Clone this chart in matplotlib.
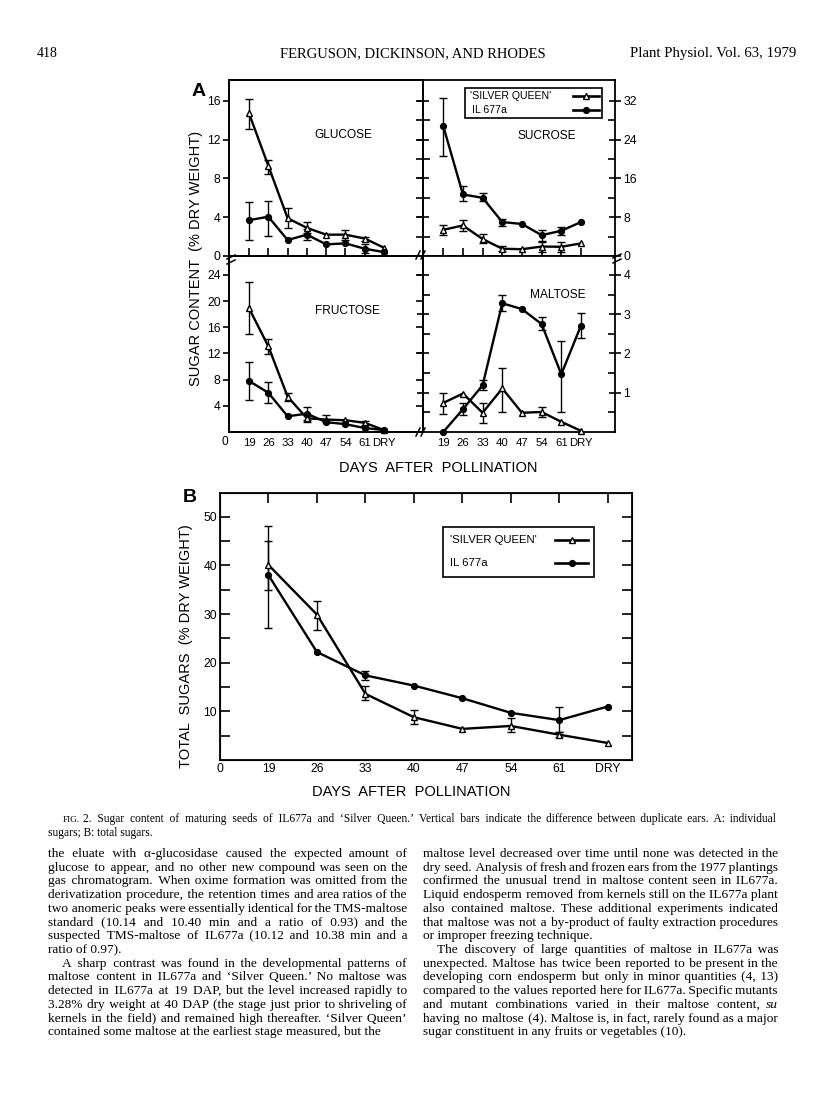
"""Sugar content of maturing IL677a and 'Silver Queen' seeds, page 418."""
import matplotlib
matplotlib.use("Agg")
import matplotlib.pyplot as plt
from matplotlib.lines import Line2D
from matplotlib.patches import Rectangle
import numpy as np

nan = np.nan

days = ["19", "26", "33", "40", "47", "54", "61", "DRY"]
series_names = ["'SILVER QUEEN'", "IL 677a"]

# panel A, % dry weight; *_lo / *_hi are the ends of the duplicate-ear bars (nan = no bar)
glu_sq = [14.7, 9.3, 3.9, 2.9, 2.2, 2.2, 1.8, 0.85]
glu_sq_lo = [13.1, 8.5, 2.9, 2.4, nan, 1.7, 1.5, nan]
glu_sq_hi = [16.2, 9.9, 5.0, 3.5, nan, 2.7, 2.0, nan]
glu_il = [3.7, 4.05, 1.65, 2.2, 1.2, 1.3, 0.75, 0.4]
glu_il_lo = [1.7, 2.1, nan, 1.7, nan, nan, 0.3, nan]
glu_il_hi = [5.6, 5.7, nan, 2.75, nan, nan, 1.2, nan]

suc_sq = [5.4, 6.3, 3.5, 1.5, 1.4, 1.95, 1.9, 2.6]
suc_sq_lo = [4.4, 5.2, 2.6, 1.0, nan, 0.9, 0.9, nan]
suc_sq_hi = [6.4, 7.4, 4.5, 2.0, nan, 2.8, 2.8, nan]
suc_il = [26.8, 12.7, 12.0, 7.0, 6.6, 4.3, 5.2, 7.0]
suc_il_lo = [20.7, 11.3, 11.3, 6.1, nan, 3.1, 4.4, nan]
suc_il_hi = [32.6, 14.4, 12.9, 7.7, nan, 5.3, 6.0, nan]

fru_sq = [18.9, 13.1, 5.4, 2.1, 1.9, 1.8, 1.4, 0.3]
fru_sq_lo = [15.0, 11.9, 4.7, 1.6, 1.5, nan, 1.1, nan]
fru_sq_hi = [23.0, 14.2, 6.0, 2.6, 2.6, nan, 1.7, nan]
fru_il = [7.8, 6.0, 2.4, 2.8, 1.5, 1.2, 0.6, 0.3]
fru_il_lo = [4.9, 4.4, nan, 1.9, nan, nan, nan, nan]
fru_il_hi = [10.7, 7.6, nan, 3.8, nan, nan, nan, nan]

mal_sq = [0.74, 0.98, 0.49, 1.11, 0.49, 0.51, 0.26, 0.03]
mal_sq_lo = [0.47, nan, 0.22, 0.52, nan, 0.39, nan, nan]
mal_sq_hi = [1.0, nan, 0.74, 1.63, nan, 0.64, nan, nan]
mal_il = [0.0, 0.58, 1.19, 3.28, 3.13, 2.75, 1.47, 2.71]
mal_il_lo = [nan, 0.43, 1.06, 3.09, nan, 2.59, 0.52, 2.39]
mal_il_hi = [nan, 0.75, 1.32, 3.49, nan, 2.92, 2.31, 3.03]

# panel B, total sugars
tot_sq = [40.1, 29.9, 13.6, 8.8, 6.4, 7.0, 5.2, 3.5]
tot_sq_lo = [27.2, 26.7, 12.3, 7.4, nan, 5.7, 4.7, nan]
tot_sq_hi = [48.1, 32.7, 15.3, 10.2, nan, 8.7, 5.7, nan]
tot_il = [38.0, 22.2, 17.4, 15.3, 12.7, 9.7, 8.2, 11.0]
tot_il_lo = [34.9, nan, 16.5, nan, nan, nan, 5.8, nan]
tot_il_hi = [45.1, nan, 18.3, nan, nan, nan, 11.0, nan]

header = ["418", "FERGUSON, DICKINSON, AND RHODES", "Plant Physiol. Vol. 63, 1979"]
caption = [
    "FIG. 2. Sugar content of maturing seeds of IL677a and \u2018Silver Queen.\u2019 Vertical bars indicate the difference between duplicate ears. A: individual",
    "sugars; B: total sugars.",
]
col_left = [
    "the eluate with \u03b1-glucosidase caused the expected amount of",
    "glucose to appear, and no other new compound was seen on the",
    "gas chromatogram. When oxime formation was omitted from the",
    "derivatization procedure, the retention times and area ratios of the",
    "two anomeric peaks were essentially identical for the TMS-maltose",
    "standard (10.14 and 10.40 min and a ratio of 0.93) and the",
    "suspected TMS-maltose of IL677a (10.12 and 10.38 min and a",
    "ratio of 0.97).",
    "A sharp contrast was found in the developmental patterns of",
    "maltose content in IL677a and \u2018Silver Queen.\u2019 No maltose was",
    "detected in IL677a at 19 DAP, but the level increased rapidly to",
    "3.28% dry weight at 40 DAP (the stage just prior to shriveling of",
    "kernels in the field) and remained high thereafter. \u2018Silver Queen\u2019",
    "contained some maltose at the earliest stage measured, but the",
]
col_right = [
    "maltose level decreased over time until none was detected in the",
    "dry seed. Analysis of fresh and frozen ears from the 1977 plantings",
    "confirmed the unusual trend in maltose content seen in IL677a.",
    "Liquid endosperm removed from kernels still on the IL677a plant",
    "also contained maltose. These additional experiments indicated",
    "that maltose was not a by-product of faulty extraction procedures",
    "or improper freezing technique.",
    "The discovery of large quantities of maltose in IL677a was",
    "unexpected. Maltose has twice been reported to be present in the",
    "developing corn endosperm but only in minor quantities (4, 13)",
    "compared to the values reported here for IL677a. Specific mutants",
    "and mutant combinations varied in their maltose content, _su",
    "having no maltose (4). Maltose is, in fact, rarely found as a major",
    "sugar constituent in any fruits or vegetables (10).",
]
left_indent = {8}
left_last = {7, 13}
right_indent = {7}
right_last = {6, 13}

W, H = 816, 1100
SANS = "Liberation Sans"
SERIF = ["Liberation Serif", "DejaVu Serif"]

fig = plt.figure(figsize=(W / 100, H / 100), dpi=100)
fig.patch.set_facecolor("white")


def box(x0, y0, x1, y1):
    return [x0 / W, 1 - y1 / H, (x1 - x0) / W, (y1 - y0) / H]


def ftext(x, y, s, **kw):
    return fig.text(x / W, 1 - y / H, s, **kw)


def fline(xs, ys, **kw):
    fig.add_artist(Line2D([v / W for v in xs], [1 - v / H for v in ys],
                          transform=fig.transFigure, **kw))


def series(ax, y, lo, hi, filled):
    x = np.arange(len(days))
    y, lo, hi = np.asarray(y), np.asarray(lo), np.asarray(hi)
    m = np.isfinite(lo)
    ax.errorbar(x[m], y[m], yerr=[y[m] - lo[m], hi[m] - y[m]], fmt="none",
                ecolor="k", elinewidth=1.0, capsize=3.2, capthick=1.0, clip_on=False)
    if filled:
        ax.plot(x, y, "-o", color="k", lw=1.7, ms=4.2, mfc="k", clip_on=False, zorder=3)
    else:
        ax.plot(x, y, "-^", color="k", lw=1.7, ms=5, mfc="white", mew=1.0,
                clip_on=False, zorder=3)


def frame(ax, size=8.8):
    for s in ax.spines.values():
        s.set_linewidth(1.3)
    ax.tick_params(which="both", width=1.2, labelsize=size, pad=2)
    for lbl in ax.get_xticklabels() + ax.get_yticklabels():
        lbl.set_fontfamily(SANS)


def slash(x, y, n=2, vertical=False):
    for i in range(n):
        if vertical:
            fline([x - 4, x + 4], [y + 2 + 5 * i, y - 2 + 5 * i], color="k", lw=1.1)
        else:
            fline([x - 2 + 5 * i, x + 2 + 5 * i], [y + 4, y - 4], color="k", lw=1.1)


def key(x0, y0, x1, y1, rows, size, sample):
    """Legend box: label at left, line sample at right (pixel coords)."""
    fig.add_artist(Rectangle((x0 / W, 1 - y1 / H), (x1 - x0) / W, (y1 - y0) / H,
                             transform=fig.transFigure, fill=False, ec="k", lw=1.2))
    for (tx, ty, label), filled in zip(rows, (False, True)):
        ftext(tx, ty, label, family=SANS, fontsize=size, va="center")
        sx0, sx1 = sample
        fline([sx0, sx1], [ty, ty], color="k", lw=1.9)
        fline([(sx0 + sx1) / 2], [ty], color="k", ls="none",
              marker="o" if filled else "^", ms=4.2 if filled else 5,
              mfc="k" if filled else "white", mew=1.0)


# ---- panel A -------------------------------------------------------------
ax_glu = fig.add_axes(box(229, 80, 423, 256))
ax_suc = fig.add_axes(box(423, 80, 615, 256))
ax_fru = fig.add_axes(box(229, 256, 423, 432))
ax_mal = fig.add_axes(box(423, 256, 615, 432))

series(ax_glu, glu_sq, glu_sq_lo, glu_sq_hi, False)
series(ax_glu, glu_il, glu_il_lo, glu_il_hi, True)
series(ax_suc, suc_sq, suc_sq_lo, suc_sq_hi, False)
series(ax_suc, suc_il, suc_il_lo, suc_il_hi, True)
series(ax_fru, fru_sq, fru_sq_lo, fru_sq_hi, False)
series(ax_fru, fru_il, fru_il_lo, fru_il_hi, True)
series(ax_mal, mal_sq, mal_sq_lo, mal_sq_hi, False)
series(ax_mal, mal_il, mal_il_lo, mal_il_hi, True)

for ax in (ax_glu, ax_fru):
    ax.set_xlim(-1.04, 9.02)
for ax in (ax_suc, ax_mal):
    ax.set_xlim(-1.03, 8.73)
ax_glu.set_ylim(0, 18.15)
ax_suc.set_ylim(0, 36.3)
ax_fru.set_ylim(0, 26.9)
ax_mal.set_ylim(0, 26.9 / 6)

for ax in (ax_glu, ax_suc):
    ax.set_xticks(range(len(days)))
    ax.tick_params(axis="x", direction="in", length=6, labelbottom=False)

ax_glu.set_yticks([0, 4, 8, 12, 16])
ax_glu.tick_params(axis="y", direction="out", length=4)
g2 = ax_glu.twinx()
g2.set_ylim(ax_glu.get_ylim())
g2.set_yticks(np.arange(0, 18, 2))
g2.tick_params(axis="y", direction="in", length=5, width=1.2, labelright=False)

ax_fru.set_yticks([4, 8, 12, 16, 20, 24])
ax_fru.tick_params(axis="y", direction="out", length=4)
f2 = ax_fru.twinx()
f2.set_ylim(ax_fru.get_ylim())
f2.set_yticks(np.arange(0, 26, 4))
f2.tick_params(axis="y", direction="in", length=5, width=1.2, labelright=False)

ax_suc.set_yticks([0, 8, 16, 24, 32])
ax_suc.set_yticks([4, 12, 20, 28], minor=True)
ax_mal.set_yticks([1, 2, 3, 4])
ax_mal.set_yticks([0.5, 1.5, 2.5, 3.5], minor=True)
for ax in (ax_suc, ax_mal):
    ax.yaxis.set_ticks_position("both")
    ax.tick_params(axis="y", which="major", direction="inout", length=8,
                   labelleft=False, labelright=True)
    ax.tick_params(axis="y", which="minor", direction="in", length=5)

for ax in (ax_glu, ax_suc, ax_fru, ax_mal, g2, f2):
    frame(ax)

for ax in (ax_fru, ax_mal):
    ax.set_xticks(range(len(days)), days)
    ax.tick_params(axis="x", length=0, pad=4, labelsize=8.2)
    for lbl in ax.get_xticklabels():
        lbl.set_fontfamily(SANS)

key(465, 88, 602, 118, [(470, 96, series_names[0]), (472, 110, series_names[1])],
    7.6, (573, 599))

lab = dict(family=SANS, fontsize=8.6, ha="center", va="center")
ftext(343, 135, "GLUCOSE", **lab)
ftext(547, 136, "SUCROSE", **lab)
ftext(347, 311, "FRUCTOSE", **lab)
ftext(558, 295, "MALTOSE", **lab)
ftext(225, 442, "0", family=SANS, fontsize=8.6, ha="center", va="center")
ftext(199, 91, "A", family=SANS, fontsize=14, fontweight="bold", ha="center", va="center")
ftext(196, 258, "SUGAR CONTENT  (% DRY WEIGHT)", family=SANS, fontsize=10.5,
      rotation=90, ha="center", va="center")
ftext(438, 468, "DAYS  AFTER  POLLINATION", family=SANS, fontsize=10.5, ha="center", va="center")

slash(231, 257, vertical=True)
slash(418, 255)
slash(617, 256, vertical=True)
slash(418, 432)

# ---- panel B -------------------------------------------------------------
ax_tot = fig.add_axes(box(220, 493, 632, 760))
series(ax_tot, tot_sq, tot_sq_lo, tot_sq_hi, False)
series(ax_tot, tot_il, tot_il_lo, tot_il_hi, True)
ax_tot.set_xlim(-1.0, 7.5)
ax_tot.set_ylim(0, 54.9)
ax_tot.set_xticks(range(-1, len(days)), ["0"] + days)
ax_tot.tick_params(axis="x", length=0, pad=4)
ax_tot.set_yticks([10, 20, 30, 40, 50])
ax_tot.set_yticks([5, 15, 25, 35, 45], minor=True)
ax_tot.yaxis.set_ticks_position("both")
ax_tot.tick_params(axis="y", which="both", direction="in", length=7, labelright=False)
frame(ax_tot)
t2 = ax_tot.twiny()
t2.set_xlim(ax_tot.get_xlim())
t2.set_xticks(range(len(days)))
t2.tick_params(axis="x", direction="in", length=7, width=1.2, labeltop=False)

key(443, 527, 594, 577, [(450, 540, series_names[0]), (450, 563, series_names[1])],
    8.2, (555, 588))

ftext(190, 497, "B", family=SANS, fontsize=14, fontweight="bold", ha="center", va="center")
ftext(186, 646, "TOTAL  SUGARS  (% DRY WEIGHT)", family=SANS, fontsize=10.5,
      rotation=90, ha="center", va="center")
ftext(411, 792, "DAYS  AFTER  POLLINATION", family=SANS, fontsize=10.5, ha="center", va="center")

# ---- page text -----------------------------------------------------------
renderer = fig.canvas.get_renderer()
HAIR, THIN = "\u200a", "\u2009"


def width_of(s, size, style="normal"):
    t = ftext(0, 0, s, family=SERIF, fontsize=size, style=style)
    w = t.get_window_extent(renderer).width
    t.remove()
    return w


def fill_line(x0, x1, y, words, size):
    """One Text per line; gaps widened with hair spaces to reach x1."""
    n = len(words) - 1
    sep = " "
    nat = width_of(sep.join(words), size)
    if nat > x1 - x0:
        sep = THIN
        nat = width_of(sep.join(words), size)
    hair = (width_of("x" + HAIR * 20 + "x", size) - width_of("xx", size)) / 20
    total = max(0, int(round((x1 - x0 - nat) / hair))) if hair > 0.05 else 0
    q, r = divmod(total, n) if n else (0, 0)
    s = words[0]
    for i, w in enumerate(words[1:]):
        s += sep + HAIR * (q + (1 if i < r else 0)) + w
    ftext(x0, y, s, family=SERIF, fontsize=size, va="baseline")


def text_line(x0, x1, y, line, size, justify=True):
    words = line.split(" ")
    sp = width_of("x x", size) - width_of("xx", size)
    if words[0] == "FIG.":
        t = ftext(x0, y, "FIG.", family=SERIF, fontsize=size * 0.8, va="baseline")
        x0 += t.get_window_extent(renderer).width + sp
        words = words[1:]
    if words[-1].startswith("_"):
        w = words[-1][1:]
        ftext(x1, y, w, family=SERIF, fontsize=size, style="italic", ha="right", va="baseline")
        x1 -= width_of(w, size, "italic") + 1.8 * sp
        words = words[:-1]
    if justify:
        fill_line(x0, x1, y, words, size)
    else:
        ftext(x0, y, " ".join(words), family=SERIF, fontsize=size, va="baseline")


ftext(37, 57, header[0], family=SERIF, fontsize=10, va="baseline")
ftext(413, 57, header[1], family=SERIF, fontsize=10.5, ha="center", va="baseline")
ftext(796, 57, header[2], family=SERIF, fontsize=10.7, ha="right", va="baseline")

text_line(63, 775, 822, caption[0], 8.3)
text_line(48, 775, 836, caption[1], 8.3, justify=False)

for i, line in enumerate(col_left):
    x0 = 62 if i in left_indent else 48
    text_line(x0, 407, 857 + i * 13.72, line, 9.6, justify=i not in left_last)
for i, line in enumerate(col_right):
    x0 = 437 if i in right_indent else 423
    text_line(x0, 778, 857 + i * 13.72, line, 9.6, justify=i not in right_last)

fig.savefig("out.png", dpi=100)
plt.close(fig)
